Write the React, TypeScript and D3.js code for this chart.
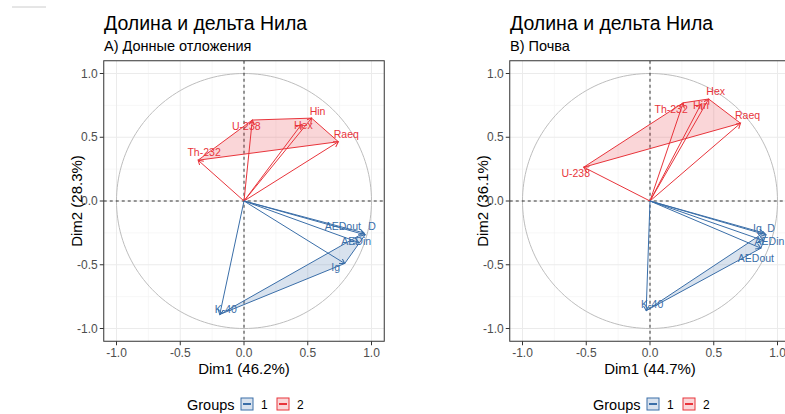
import React from "react";
import * as d3 from "d3";

// Variables shared by both PCA correlation circles
const varNames = ["Th-232", "U-238", "Hin", "Hex", "Raeq", "AEDout", "D", "AEDin", "Ig", "K-40"];

// A) Bottom sediments: coordinates on Dim1 / Dim2 and variable group
const sedimentDim1 = [-0.36, 0.065, 0.53, 0.45, 0.74, 0.94, 0.95, 0.90, 0.79, -0.19];
const sedimentDim2 = [0.32, 0.635, 0.65, 0.60, 0.465, -0.25, -0.265, -0.325, -0.49, -0.89];
const sedimentGroup = ["2", "2", "2", "2", "2", "1", "1", "1", "1", "1"];

// B) Soil
const soilDim1 = [0.26, -0.52, 0.40, 0.46, 0.71, 0.87, 0.91, 0.89, 0.89, -0.03];
const soilDim2 = [0.77, 0.265, 0.76, 0.80, 0.61, -0.37, -0.265, -0.31, -0.25, -0.86];
const soilGroup = ["2", "2", "2", "2", "2", "1", "1", "1", "1", "1"];

const groupLevels = ["1", "2"];
const axisTicks = [-1.0, -0.5, 0.0, 0.5, 1.0];
const minorTicks = [-0.75, -0.25, 0.25, 0.75];

const chartTitle = "Долина и дельта Нила";
const sedimentSubtitle = "A) Донные отложения";
const soilSubtitle = "B) Почва";
const sedimentAxes = ["Dim1 (46.2%)", "Dim2 (28.3%)"];
const soilAxes = ["Dim1 (44.7%)", "Dim2 (36.1%)"];

// Label placement (pixel nudges from the arrow tip, text baseline)
const sedimentNudge: [number, number][] = [
  [6, -4.5], [-6, 10], [6, -3], [2, 4.5], [8, -3.7],
  [-21, -3], [7, -5], [-2.5, 2.5], [-9, 8], [6, -1.5],
];
const soilNudge: [number, number][] = [
  [-12, 10.5], [-8, 9.5], [0, 5], [7, -4], [7, -4],
  [-5, 13.5], [5, -3], [6, 4.5], [-6, -1], [6, -2.5],
];

const COLORS: Record<string, string> = { "1": "#3A6EA8", "2": "#E8343B" };
const FONT = "'Liberation Sans', Arial, Helvetica, sans-serif";

type PanelProps = {
  id: string;
  offset: number;
  subtitle: string;
  axes: string[];
  dim1: number[];
  dim2: number[];
  group: string[];
  nudge: [number, number][];
};

function Panel({ id, offset, subtitle, axes, dim1, dim2, group, nudge }: PanelProps) {
  const x = d3.scaleLinear().domain([-1.1, 1.1]).range([offset + 103.75, offset + 384.25]);
  const y = d3.scaleLinear().domain([-1.1, 1.1]).range([341.25, 60.75]);
  const [x0, x1] = x.range();
  const [y0, y1] = [y(1.1), y(-1.1)];
  const circle = d3.range(0, 361, 2).map((a) => [x(Math.cos((a * Math.PI) / 180)), y(Math.sin((a * Math.PI) / 180))] as [number, number]);
  const line = d3.line();

  const hulls = groupLevels.map((g) => {
    const pts = dim1
      .map((v, i) => [x(v), y(dim2[i])] as [number, number])
      .filter((_, i) => group[i] === g);
    return { g, hull: d3.polygonHull(pts) };
  });

  return (
    <g>
      <defs>
        <clipPath id={`clip-${id}`}>
          <rect x={x0} y={y0} width={x1 - x0} height={y1 - y0} />
        </clipPath>
        {groupLevels.map((g) => (
          <marker
            key={g}
            id={`arrow-${id}-${g}`}
            markerUnits="userSpaceOnUse"
            markerWidth={8}
            markerHeight={8}
            refX={5}
            refY={3}
            orient="auto"
          >
            <path d="M0,0 L5,3 L0,6" fill="none" stroke={COLORS[g]} strokeWidth={1} />
          </marker>
        ))}
      </defs>

      {/* titles */}
      <text x={offset + 104} y={30} fontSize={19.5} fontFamily={FONT} fill="#000">
        {chartTitle}
      </text>
      <text x={offset + 104} y={50.5} fontSize={14.5} fontFamily={FONT} fill="#000">
        {subtitle}
      </text>

      {/* panel */}
      <rect x={x0} y={y0} width={x1 - x0} height={y1 - y0} fill="#fff" />
      <g clipPath={`url(#clip-${id})`}>
        {minorTicks.map((t) => (
          <g key={`m${t}`}>
            <line x1={x(t)} x2={x(t)} y1={y0} y2={y1} stroke="#F2F2F2" strokeWidth={0.6} />
            <line x1={x0} x2={x1} y1={y(t)} y2={y(t)} stroke="#F2F2F2" strokeWidth={0.6} />
          </g>
        ))}
        {axisTicks.map((t) => (
          <g key={`M${t}`}>
            <line x1={x(t)} x2={x(t)} y1={y0} y2={y1} stroke="#EBEBEB" strokeWidth={1} />
            <line x1={x0} x2={x1} y1={y(t)} y2={y(t)} stroke="#EBEBEB" strokeWidth={1} />
          </g>
        ))}
        <path d={line(circle) || ""} fill="none" stroke="#BDBDBD" strokeWidth={1} />
        <line x1={x(0)} x2={x(0)} y1={y0} y2={y1} stroke="#333" strokeWidth={1} strokeDasharray="3,3" />
        <line x1={x0} x2={x1} y1={y(0)} y2={y(0)} stroke="#333" strokeWidth={1} strokeDasharray="3,3" />

        {hulls.map(({ g, hull }) =>
          hull ? (
            <path
              key={g}
              d={`M${hull.map((p) => p.join(",")).join("L")}Z`}
              fill={COLORS[g]}
              fillOpacity={0.2}
              stroke={COLORS[g]}
              strokeWidth={1}
            />
          ) : null
        )}

        {dim1.map((v, i) => (
          <line
            key={`a${i}`}
            x1={x(0)}
            y1={y(0)}
            x2={x(v)}
            y2={y(dim2[i])}
            stroke={COLORS[group[i]]}
            strokeWidth={1}
            markerEnd={`url(#arrow-${id}-${group[i]})`}
          />
        ))}
        {dim1.map((v, i) => (
          <text
            key={`t${i}`}
            x={x(v) + nudge[i][0]}
            y={y(dim2[i]) + nudge[i][1]}
            textAnchor="middle"
            fontSize={10.5}
            fontFamily={FONT}
            fill={COLORS[group[i]]}
          >
            {varNames[i]}
          </text>
        ))}
      </g>
      <rect x={x0} y={y0} width={x1 - x0} height={y1 - y0} fill="none" stroke="#333" strokeWidth={1} />

      {/* axes */}
      {axisTicks.map((t) => (
        <g key={`xt${t}`}>
          <line x1={x(t)} x2={x(t)} y1={y1} y2={y1 + 4} stroke="#333" strokeWidth={1} />
          <text x={x(t)} y={y1 + 15.5} textAnchor="middle" fontSize={12} fontFamily={FONT} fill="#4D4D4D">
            {t.toFixed(1)}
          </text>
          <line x1={x0 - 4} x2={x0} y1={y(t)} y2={y(t)} stroke="#333" strokeWidth={1} />
          <text x={x0 - 6} y={y(t) + 4.2} textAnchor="end" fontSize={12} fontFamily={FONT} fill="#4D4D4D">
            {t.toFixed(1)}
          </text>
        </g>
      ))}
      <text x={(x0 + x1) / 2} y={374} textAnchor="middle" fontSize={15} fontFamily={FONT} fill="#000">
        {axes[0]}
      </text>
      <text
        transform={`translate(${offset + 82},${(y0 + y1) / 2}) rotate(-90)`}
        textAnchor="middle"
        fontSize={15}
        fontFamily={FONT}
        fill="#000"
      >
        {axes[1]}
      </text>

      {/* legend */}
      <text x={offset + 187} y={410} fontSize={14.5} fontFamily={FONT} fill="#000">
        Groups
      </text>
      {groupLevels.map((g, i) => {
        const kx = offset + 241 + i * 36;
        return (
          <g key={`lg${g}`}>
            <rect x={kx} y={398} width={12} height={12} fill={COLORS[g]} fillOpacity={0.2} stroke={COLORS[g]} strokeWidth={1} />
            <line x1={kx + 2} x2={kx + 10} y1={404} y2={404} stroke={COLORS[g]} strokeWidth={2} />
            <text x={kx + 20} y={409} fontSize={12} fontFamily={FONT} fill="#000">
              {g}
            </text>
          </g>
        );
      })}
    </g>
  );
}

export default function App() {
  return (
    <svg
      width={785}
      height={414}
      style={{ position: "absolute", left: 0, top: 0, background: "#fff" }}
    >
      <rect width={785} height={414} fill="#fff" />
      <line x1={12} x2={46} y1={7} y2={7} stroke="#CCCCCC" strokeWidth={1} />
      <Panel
        id="sed"
        offset={0}
        subtitle={sedimentSubtitle}
        axes={sedimentAxes}
        dim1={sedimentDim1}
        dim2={sedimentDim2}
        group={sedimentGroup}
        nudge={sedimentNudge}
      />
      <Panel
        id="soil"
        offset={406}
        subtitle={soilSubtitle}
        axes={soilAxes}
        dim1={soilDim1}
        dim2={soilDim2}
        group={soilGroup}
        nudge={soilNudge}
      />
    </svg>
  );
}
